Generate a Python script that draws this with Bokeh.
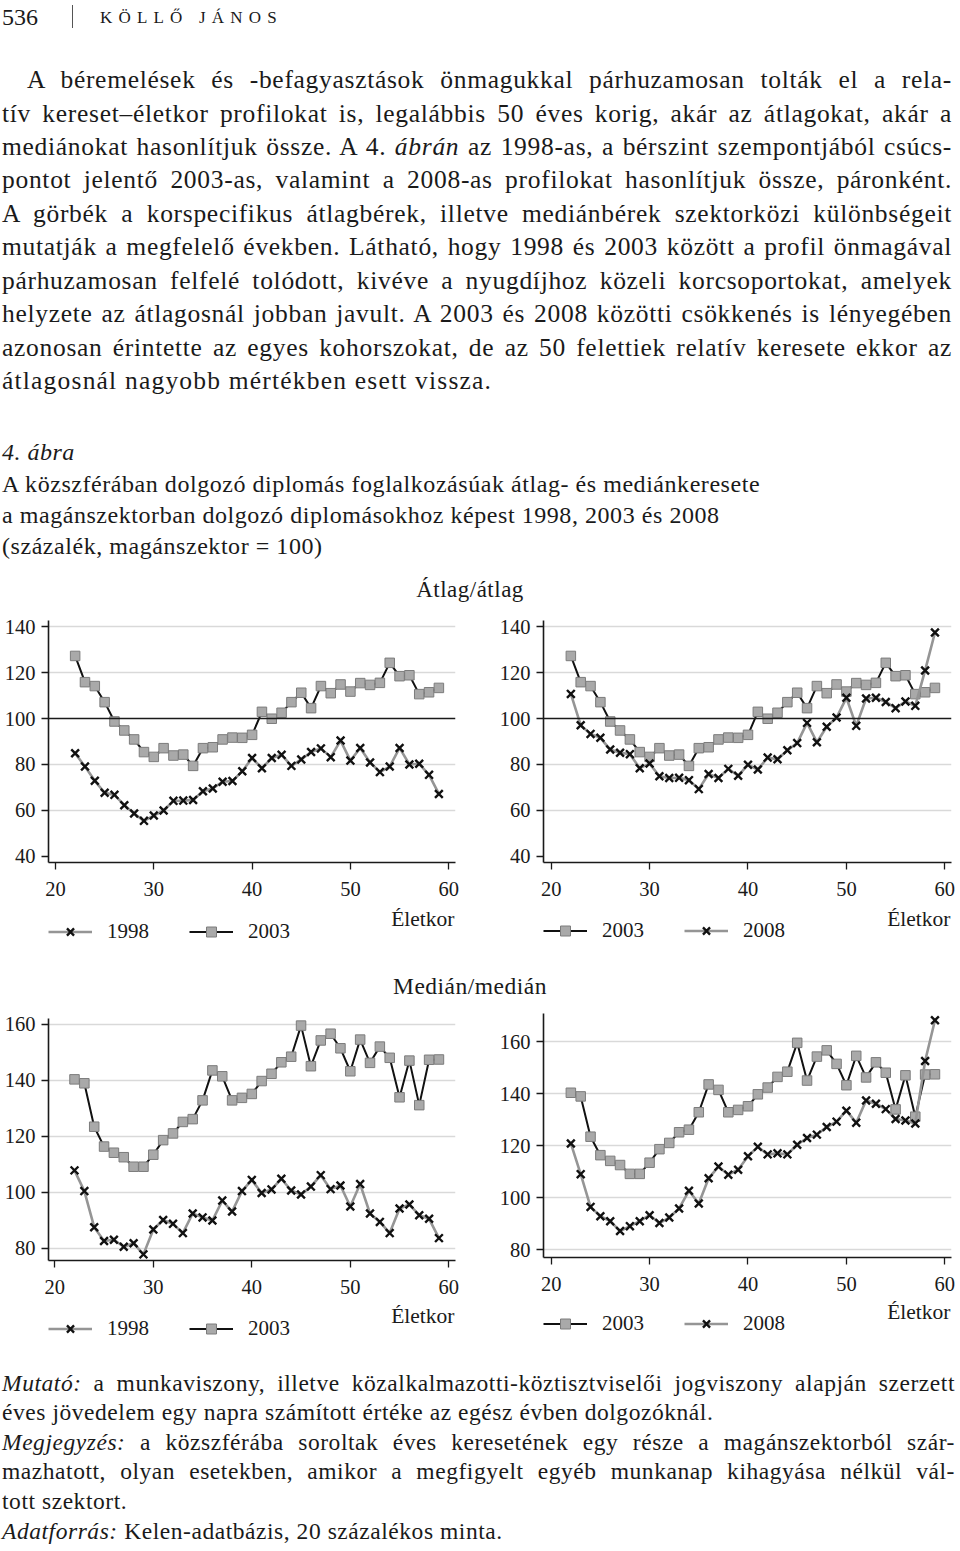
from bokeh.plotting import figure
from bokeh.models import Range1d, FixedTicker, Span, Legend, LegendItem, Label, Div
from bokeh.layouts import column, row
from bokeh.embed import file_html
from bokeh.resources import INLINE

SERIF = "Liberation Serif"
INK = "#1a1a1a"

# ---------------- data ----------------
ages = list(range(22, 60))

avg_1998 = [84.9, 79.1, 72.9, 67.7, 66.8, 62.3, 58.7, 55.5, 57.8, 60.0, 64.2, 64.3, 64.6,
            68.4, 69.6, 72.5, 72.8, 77.1, 82.8, 78.4, 82.8, 84.2, 79.4, 82.2, 85.4, 87.0,
            83.2, 90.4, 81.7, 87.2, 80.9, 76.7, 79.1, 87.2, 80.0, 80.3, 75.5, 67.2]
avg_2003 = [127.2, 115.8, 114.1, 107.1, 98.7, 94.8, 90.9, 85.4, 83.3, 87.1, 83.9, 84.3, 79.4,
            87.1, 87.5, 90.9, 91.7, 91.6, 92.9, 102.9, 99.9, 102.5, 107.1, 111.2, 104.5, 114.1,
            111.0, 114.8, 111.7, 115.4, 114.6, 115.5, 124.2, 118.4, 118.8, 110.6, 111.4, 113.3]
avg_2008 = [110.7, 97.1, 93.3, 91.6, 86.5, 85.1, 84.5, 78.4, 80.4, 74.9, 74.1, 74.2, 73.2,
            69.3, 75.9, 74.1, 78.1, 75.1, 79.9, 77.8, 83.0, 82.3, 86.2, 89.3, 98.1, 89.7,
            96.4, 100.4, 109.0, 96.8, 108.7, 109.0, 107.2, 104.5, 107.4, 105.5, 120.9, 137.4]

med_1998 = [107.9, 100.5, 87.6, 82.7, 83.1, 80.6, 81.9, 77.9, 86.8, 90.2, 88.8, 85.5, 92.5,
            91.1, 90.0, 97.1, 93.2, 100.5, 104.5, 99.8, 101.1, 104.9, 100.7, 99.3, 102.1, 106.2,
            101.2, 102.5, 95.0, 103.0, 92.5, 89.5, 85.5, 94.3, 95.7, 91.9, 90.6, 83.7]
med_2003 = [140.4, 139.0, 123.5, 116.4, 114.2, 112.6, 109.2, 109.2, 113.5, 118.7, 121.1, 125.2, 126.2,
            132.9, 143.6, 141.5, 132.9, 133.8, 135.2, 139.8, 142.4, 146.5, 148.5, 159.6, 145.1, 154.3,
            156.7, 151.5, 143.3, 154.6, 146.3, 152.1, 148.1, 134.0, 147.1, 131.2, 147.4, 147.5]
med_2008 = [120.9, 109.1, 96.5, 92.9, 91.0, 87.2, 89.1, 91.0, 93.3, 90.3, 92.4, 95.9, 102.7,
            97.8, 107.5, 112.0, 108.9, 110.8, 116.0, 119.6, 116.7, 117.1, 116.7, 120.4, 123.0, 124.3,
            127.2, 129.3, 133.5, 128.9, 137.4, 136.2, 134.1, 130.3, 129.7, 128.6, 152.6, 168.3]

x_ticks = [20, 30, 40, 50, 60]
avg_y_ticks = [40, 60, 80, 100, 120, 140]
avg_grid = [60, 80, 120, 140]
med_y_ticks = [80, 100, 120, 140, 160]
med_grid = [80, 100, 120, 140, 160]
x_label = "Életkor"

SQ_LINE = dict(line_color="#111111", line_width=2)
SQ_MARK = dict(marker="square", size=9.5, fill_color="#a9a9a9", line_color="#7c7c7c", line_width=1)
X_LINE = dict(line_color="#959595", line_width=2.6)
X_MARK = dict(marker="x", size=11, line_color="#111111", line_width=2.4)


def make_chart(w, h, bl, br, bt, bb, xr, yr, yticks, grid, ref100, sq_vals, x_vals):
    p = figure(width=w, height=h, x_range=Range1d(*xr), y_range=Range1d(*yr),
               output_backend="svg", toolbar_location=None,
               min_border_left=bl, min_border_right=br, min_border_top=bt, min_border_bottom=bb)
    p.outline_line_color = None
    p.background_fill_color = "white"
    p.border_fill_color = "white"
    p.xgrid.visible = False
    p.ygrid.ticker = FixedTicker(ticks=grid)
    p.ygrid.grid_line_color = "#d9d9d9"
    p.ygrid.grid_line_width = 1.5
    p.xaxis.ticker = FixedTicker(ticks=x_ticks)
    p.yaxis.ticker = FixedTicker(ticks=yticks)
    for ax in (p.xaxis[0], p.yaxis[0]):
        ax.axis_line_color = INK
        ax.axis_line_width = 1.6
        ax.major_tick_line_color = INK
        ax.major_tick_line_width = 1.3
        ax.major_tick_in = 0
        ax.minor_tick_in = 0
        ax.minor_tick_out = 0
        ax.major_label_text_font = SERIF
        ax.major_label_text_font_size = "20.5px"
        ax.major_label_text_color = INK
    p.xaxis.major_tick_out = 7
    p.xaxis.major_label_standoff = 12
    p.yaxis.major_tick_out = 7
    p.yaxis.major_label_standoff = 6
    if ref100:
        p.add_layout(Span(location=100, dimension="width", line_color=INK, line_width=1.6))
    p.line(ages, sq_vals, **SQ_LINE)
    p.scatter(ages, sq_vals, **SQ_MARK)
    p.line(ages, x_vals, **X_LINE)
    p.scatter(ages, x_vals, **X_MARK)
    return p


def make_strip(h, series, order, vy, lab_x, lab_y):
    """Legend strip under a chart (its frame is aligned with the chart above).
    The series are drawn again but fall outside the strip's ranges, so only
    their legend keys show."""
    s = figure(width=480, height=h, x_range=Range1d(0, 1), y_range=Range1d(0, 1),
               x_axis_type=None, y_axis_type=None, output_backend="svg",
               toolbar_location=None, min_border=0)
    s.outline_line_color = None
    s.background_fill_color = "white"
    s.border_fill_color = "white"
    (sq_label, sq_vals), (x_label_s, x_vals) = series
    r_sq = [s.line(ages, sq_vals, **SQ_LINE), s.scatter(ages, sq_vals, **SQ_MARK)]
    r_x = [s.line(ages, x_vals, **X_LINE), s.scatter(ages, x_vals, **X_MARK)]
    items = {sq_label: LegendItem(label=sq_label, renderers=r_sq),
             x_label_s: LegendItem(label=x_label_s, renderers=r_x)}
    legend = Legend(items=[items[k] for k in order], orientation="horizontal",
                    location=(0, vy), padding=0, margin=0, spacing=40,
                    glyph_width=44, glyph_height=25, label_height=25, label_standoff=15,
                    border_line_color=None, background_fill_alpha=0,
                    label_text_font=SERIF, label_text_font_size="21px", label_text_color=INK)
    s.add_layout(legend)
    s.add_layout(Label(x=lab_x, y=lab_y, x_units="screen", y_units="screen", text=x_label,
                       text_align="right", text_baseline="middle", text_font=SERIF,
                       text_font_size="21.5px", text_color=INK))
    return s


# frames: left charts x 48..455, right charts x 543..951 (page pixels)
tl = make_chart(480, 300, 48, 25, 15, 43, (19.29, 60.69), (37.39, 142.61), avg_y_ticks, avg_grid, True,
                avg_2003, avg_1998)
tr = make_chart(480, 300, 63, 9, 15, 43, (19.22, 60.68), (37.39, 142.61), avg_y_ticks, avg_grid, True,
                avg_2003, avg_2008)
bl = make_chart(480, 299, 48, 25, 15, 42, (19.36, 60.68), (75.71, 162.14), med_y_ticks, med_grid, False,
                med_2003, med_1998)
br = make_chart(480, 296, 63, 9, 10, 42, (19.22, 60.68), (77.04, 170.88), med_y_ticks, med_grid, False,
                med_2003, med_2008)

tl_s = make_strip(55, (("2003", avg_2003), ("1998", avg_1998)), ["1998", "2003"], 15.8, 406, 42)
tr_s = make_strip(55, (("2003", avg_2003), ("2008", avg_2008)), ["2003", "2008"], 17.5, 407, 42)
bl_s = make_strip(63, (("2003", med_2003), ("1998", med_1998)), ["1998", "2003"], 24.5, 406, 50)
br_s = make_strip(66, (("2003", med_2003), ("2008", med_2008)), ["2003", "2008"], 29.5, 407, 54)

# ---------------- text blocks ----------------
body_lines = [
    "A béremelések és -befagyasztások önmagukkal párhuzamosan tolták el a rela-",
    "tív kereset–életkor profilokat is, legalábbis 50 éves korig, akár az átlagokat, akár a",
    "mediánokat hasonlítjuk össze. A 4. <i>ábrán</i> az 1998-as, a bérszint szempontjából csúcs-",
    "pontot jelentő 2003-as, valamint a 2008-as profilokat hasonlítjuk össze, páronként.",
    "A görbék a korspecifikus átlagbérek, illetve mediánbérek szektorközi különbségeit",
    "mutatják a megfelelő években. Látható, hogy 1998 és 2003 között a profil önmagával",
    "párhuzamosan felfelé tolódott, kivéve a nyugdíjhoz közeli korcsoportokat, amelyek",
    "helyzete az átlagosnál jobban javult. A 2003 és 2008 közötti csökkenés is lényegében",
    "azonosan érintette az egyes kohorszokat, de az 50 felettiek relatív keresete ekkor az",
    "átlagosnál nagyobb mértékben esett vissza.",
]
caption_lines = [
    "A közszférában dolgozó diplomás foglalkozásúak átlag- és mediánkeresete",
    "a magánszektorban dolgozó diplomásokhoz képest 1998, 2003 és 2008",
    "(százalék, magánszektor = 100)",
]
footer_lines = [
    "<i>Mutató:</i> a munkaviszony, illetve közalkalmazotti-köztisztviselői jogviszony alapján szerzett",
    "éves jövedelem egy napra számított értéke az egész évben dolgozóknál.",
    "<i>Megjegyzés:</i> a közszférába soroltak éves keresetének egy része a magánszektorból szár-",
    "mazhatott, olyan esetekben, amikor a megfigyelt egyéb munkanap kihagyása nélkül vál-",
    "tott szektort.",
    "<i>Adatforrás:</i> Kelen-adatbázis, 20 százalékos minta.",
]


def tline(text, xref, yref, y0, size, lh, right=952, width=None, align="left", justify=False,
          ls=0.0, extra=""):
    top = yref - y0 - lh / 2.0
    left = xref
    w = width if width is not None else right - left
    ta = "justify" if justify else align
    return (f'<div style="position:absolute;left:{left}px;top:{top:.1f}px;width:{w}px;height:{lh}px;'
            f'line-height:{lh}px;font-size:{size}px;letter-spacing:{ls}px;text-align:{ta};'
            f'text-align-last:{ta};{extra}">{text}</div>')


def block(parts, w, h):
    return (f'<div style="position:relative;width:{w}px;height:{h}px;font-family:\'{SERIF}\',serif;'
            f'color:{INK};overflow:visible;">' + "".join(parts) + "</div>")


parts = []
parts.append(tline("536", 2, 17, 0, 24, 20, width=60))
parts.append('<div style="position:absolute;left:72px;top:5px;width:0px;height:23px;border-left:1px solid #555;"></div>')
parts.append(tline("KÖLLŐ JÁNOS", 100, 18, 0, 17, 20, width=300, ls=6.2))
for i, t in enumerate(body_lines):
    xref = 27 if i == 0 else 2
    last = i == len(body_lines) - 1
    parts.append(tline(t, xref, 80 + 33.45 * i, 0, 25.5, 34, justify=not last,
                       ls=(1.2 if last else 0.7)))
parts.append(tline("<i>4. ábra</i>", 2, 452, 0, 24, 31, ls=0.5))
for i, t in enumerate(caption_lines):
    parts.append(tline(t, 2, 484 + 31 * i, 0, 24, 31, ls=0.55))
parts.append(tline("Átlag/átlag", 170, 590, 0, 23, 30, width=600, align="center", ls=0.5))
header = Div(text=block(parts, 960, 605), width=960, height=605, margin=0)

mid_parts = [tline("Medián/medián", 170, 986, 960, 23.5, 30, width=600, align="center", ls=0.5)]
mid = Div(text=block(mid_parts, 960, 43), width=960, height=43, margin=0)

f_parts = []
for i, t in enumerate(footer_lines):
    just = i in (0, 2, 3)
    f_parts.append(tline(t, 2, 1383 + 29.6 * i, 1365, 23.5, 29, right=955, justify=just, ls=0.55))
footer = Div(text=block(f_parts, 960, 186), width=960, height=186, margin=0)

page = column(header,
              row(column(tl, tl_s), column(tr, tr_s)),
              mid,
              row(column(bl, bl_s), column(br, br_s)),
              footer)

with open("out.html", "w", encoding="utf-8") as fh:
    fh.write(file_html(page, INLINE))
